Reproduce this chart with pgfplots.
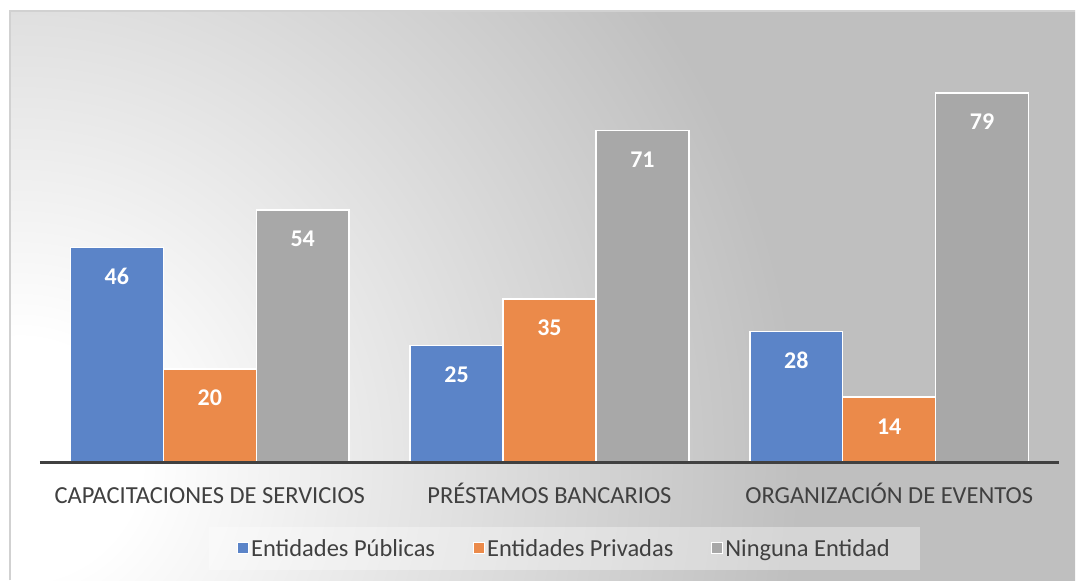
\documentclass[border=0pt]{standalone}
\usepackage{fontspec}
\setmainfont{Carlito}
\usepackage{pgfplots}
\pgfplotsset{compat=1.18}
\definecolor{cblue}{HTML}{5B84C8}
\definecolor{corange}{HTML}{EB8A4A}
\definecolor{cgray}{HTML}{A8A8A8}
\definecolor{bggray}{HTML}{BFBFBF}
\definecolor{txt}{HTML}{404040}
\pgfdeclareradialshading{bgshade}{\pgfpoint{0bp}{0bp}}{color(0bp)=(white); color(2.6bp)=(white); color(17bp)=(bggray); color(50bp)=(bggray)}
\begin{document}
\begin{tikzpicture}[x=1pt,y=1pt]
\path[fill=white] (0,0) rectangle (1076,581);
\begin{scope}
\clip (10,0) rectangle (1076,570);
\shade[shading=bgshade] (20,121) circle (1150);
\end{scope}
\draw[color=black!18, line width=2pt] (10,0) -- (10,570) -- (1076,570);
\begin{axis}[
  at={(40pt,118pt)}, anchor=south west,
  scale only axis, width=1020pt, height=421.5pt,
  xmin=-0.5, xmax=2.5, ymin=0, ymax=90,
  ybar=0pt, bar width=93pt,
  axis x line=bottom, axis y line=none,
  x axis line style={draw=txt, line width=3pt, -},
  axis on top,
  xtick={0,1,2},
  xticklabels={CAPACITACIONES DE SERVICIOS, PRÉSTAMOS BANCARIOS, ORGANIZACIÓN DE EVENTOS},
  x tick label style={font=\fontsize{24.5}{28}\selectfont, text=txt, anchor=base, yshift=-41pt},
  major tick length=0pt,
  ytick=\empty,
  nodes near coords,
  nodes near coords style={font=\fontsize{24}{28}\selectfont\bfseries, text=white, anchor=base, yshift=-37pt, /pgf/number format/assume math mode=true},
  every axis plot/.append style={draw=white, line width=1.5pt},
  area legend,
  legend image code/.code={\draw[#1, line width=1pt, fill opacity=1, draw opacity=1] (0pt,-5pt) rectangle (11pt,6pt);},
  legend columns=3,
  legend style={at={(0.5147,-0.204)}, anchor=center, draw=none, fill=white, fill opacity=0.35, text opacity=1,
    font=\fontsize{24.5}{28}\selectfont, text=txt, inner xsep=28pt, inner ysep=10pt,
    /tikz/every odd column/.append style={column sep=0pt},
    /tikz/every even column/.append style={column sep=36pt}},
]
\addplot[fill=cblue] coordinates {(0,46) (1,25) (2,28)};
\addplot[fill=corange] coordinates {(0,20) (1,35) (2,14)};
\addplot[fill=cgray] coordinates {(0,54) (1,71) (2,79)};
\legend{Entidades Públicas, Entidades Privadas, Ninguna Entidad}
\end{axis}
\end{tikzpicture}
\end{document}
